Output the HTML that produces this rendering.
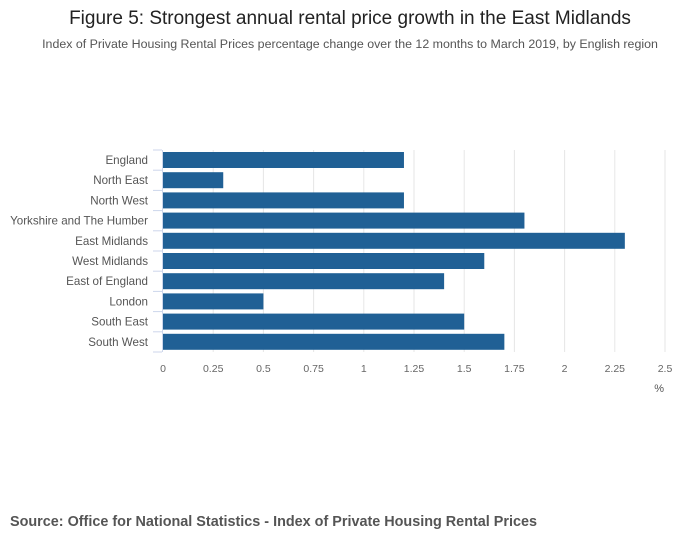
<!DOCTYPE html>
<html><head><meta charset="utf-8"><style>
body{margin:0;background:#fff;font-family:"Liberation Sans",sans-serif;}
#wrap{position:relative;width:700px;height:549px;overflow:hidden;}
</style></head><body>
<div id="wrap">
<svg id="chart" width="700" height="549">
<text x="350" y="24" text-anchor="middle" font-size="19" fill="#222">Figure 5: Strongest annual rental price growth in the East Midlands</text>
<text x="350" y="48" text-anchor="middle" font-size="12.4" fill="#555">Index of Private Housing Rental Prices percentage change over the 12 months to March 2019, by English region</text>
<text x="10" y="526" font-size="14.4" font-weight="bold" fill="#555">Source: Office for National Statistics - Index of Private Housing Rental Prices</text>
<text x="664" y="392" text-anchor="end" font-size="11" fill="#555">%</text>
<g id="grid"></g><g id="bars"></g><g id="axes"></g>
</svg>
</div>
<script>
const categories=["England","North East","North West","Yorkshire and The Humber","East Midlands","West Midlands","East of England","London","South East","South West"];
const values=[1.2,0.3,1.2,1.8,2.3,1.6,1.4,0.5,1.5,1.7];
const ticks=[0,0.25,0.5,0.75,1,1.25,1.5,1.75,2,2.25,2.5];
const tickLabels=["0","0.25","0.5","0.75","1","1.25","1.5","1.75","2","2.25","2.5"];
const NS="http://www.w3.org/2000/svg";
const x0=163,x1=665,yTop=150,pitch=20.2;
function xs(v){return x0+(x1-x0)*v/2.5;}
function ys(i){return yTop+i*pitch;}
function mk(t,a,p){const e=document.createElementNS(NS,t);for(const k in a)e.setAttribute(k,a[k]);p.appendChild(e);return e;}
const grid=document.getElementById('grid'),bars=document.getElementById('bars'),axes=document.getElementById('axes');
const yBot=ys(categories.length);
ticks.forEach((t,i)=>{
 if(t>0){const g=mk('line',{x1:xs(t),x2:xs(t),y1:yTop,y2:yBot,stroke:'#e6e6e6','stroke-width':1},grid);
 
 }
 const l=mk('text',{x:xs(t),y:yBot+20,'text-anchor':'middle','font-size':10.5,fill:'#666'},axes);
 l.textContent=tickLabels[i];
 
 
});
categories.forEach((c,i)=>{
 const b=mk('rect',{x:x0,y:ys(i)+2,width:xs(values[i])-x0,height:16,fill:'#206095'},bars);
 
 
 const l=mk('text',{x:148,y:ys(i)+14,'text-anchor':'end','font-size':11.6,fill:'#555'},axes);
 l.textContent=c;
 
 
});
for(let i=0;i<=categories.length;i++){
 const t=mk('line',{x1:153,x2:162,y1:ys(i),y2:ys(i),stroke:'#ccd6eb','stroke-width':1},axes);
 
 
}
const ax=mk('line',{x1:162.5,x2:162.5,y1:yTop,y2:yBot,stroke:'#ccd6eb','stroke-width':1},axes);


</script>
</body></html>
